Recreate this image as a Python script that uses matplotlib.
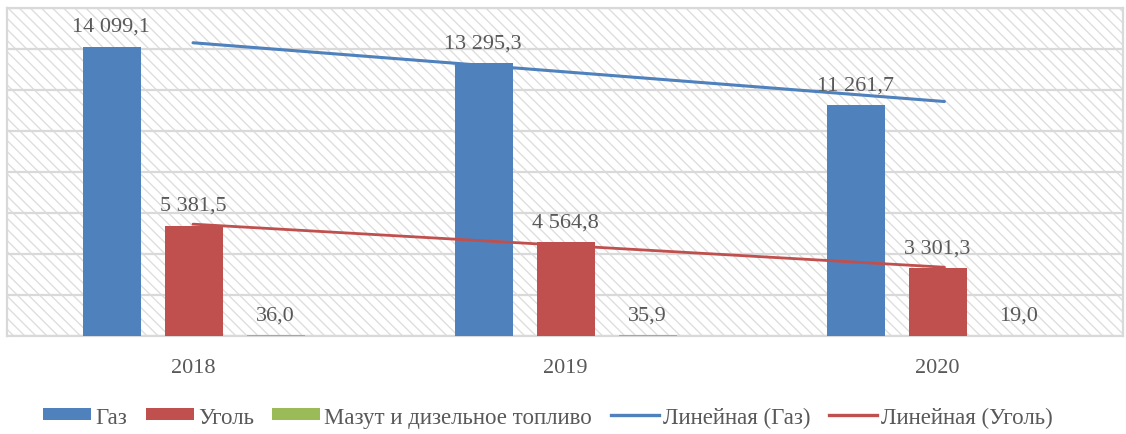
import numpy as np
import matplotlib
matplotlib.use("Agg")
import matplotlib.pyplot as plt
from matplotlib.patches import Patch, Rectangle
from matplotlib.lines import Line2D

years = ["2018", "2019", "2020"]
gas = [14099.1, 13295.3, 11261.7]
coal = [5381.5, 4564.8, 3301.3]
mazut = [36.0, 35.9, 19.0]
series_names = ["Газ", "Уголь", "Мазут и дизельное топливо"]
trend_names = ["Линейная (Газ)", "Линейная (Уголь)"]

C_GAS = "#4F81BD"
C_COAL = "#C0504D"
C_MAZ = "#9BBB59"
TXT = "#595959"
GRID = "#D9D9D9"

plt.rcParams["font.family"] = ["Liberation Serif", "DejaVu Serif"]
plt.rcParams["hatch.linewidth"] = 1.0

fig = plt.figure(figsize=(11.26, 4.35), dpi=100)
W, H = 1126, 435
ax = fig.add_axes([7 / W, (H - 337) / H, 1116 / W, 328 / H])

# hatched background
bg = Rectangle((0, 0), 1, 1, transform=ax.transAxes, facecolor="white",
               edgecolor="#DEDEDE", hatch="\\\\\\", linewidth=0, zorder=0)
ax.add_patch(bg)
ax.patch.set_visible(False)

x = np.arange(len(years))
off = 0.22
bw = 0.156

def fmt(v):
    return f"{v:,.1f}".replace(",", " ").replace(".", ",")

for vals, dx, col in [(gas, -off, C_GAS), (coal, 0.0, C_COAL), (mazut, off, C_MAZ)]:
    ax.bar(x + dx + 0.003, vals, width=bw, color=col, zorder=3)
    for xi, v in zip(x + dx, vals):
        ax.annotate(fmt(v), (xi, v), xytext=(0, 11.5), textcoords="offset points",
                    ha="center", va="baseline", fontsize=16, color=TXT, zorder=5)

# linear trendlines
for vals, col, lw in [(gas, C_GAS, 2.2), (coal, C_COAL, 2.0)]:
    k, b = np.polyfit(x + 1, vals, 1)
    xs = np.array([0, 2.02])
    ax.plot(xs, k * (xs + 1) + b, color=col, lw=lw, zorder=4, solid_capstyle="round")

ax.set_xlim(-0.5, 2.5)
ax.set_ylim(0, 16000)
ax.set_yticks(np.arange(0, 16001, 2000))
ax.set_yticklabels([])
ax.set_xticks(x)
ax.set_xticklabels(years, fontsize=16, color=TXT)
ax.tick_params(axis="both", length=0)
ax.tick_params(axis="x", pad=16)
ax.grid(axis="y", color=GRID, lw=1.6, zorder=1)
ax.set_axisbelow(True)
for s in ax.spines.values():
    s.set_color(GRID)
    s.set_linewidth(1.6)

handles = [Patch(facecolor=C_GAS), Patch(facecolor=C_COAL), Patch(facecolor=C_MAZ),
           Line2D([], [], color=C_GAS, lw=2.4), Line2D([], [], color=C_COAL, lw=2.4)]
leg = fig.legend(handles, series_names + trend_names, loc="center",
                 bbox_to_anchor=(548 / W, 1 - 418 / H), ncol=5, frameon=False,
                 fontsize=16.5, handlelength=2.1, handleheight=0.44,
                 handletextpad=0.18, columnspacing=0.8)
for t in leg.get_texts():
    t.set_color(TXT)

fig.savefig("out.png", dpi=100, facecolor="white")
